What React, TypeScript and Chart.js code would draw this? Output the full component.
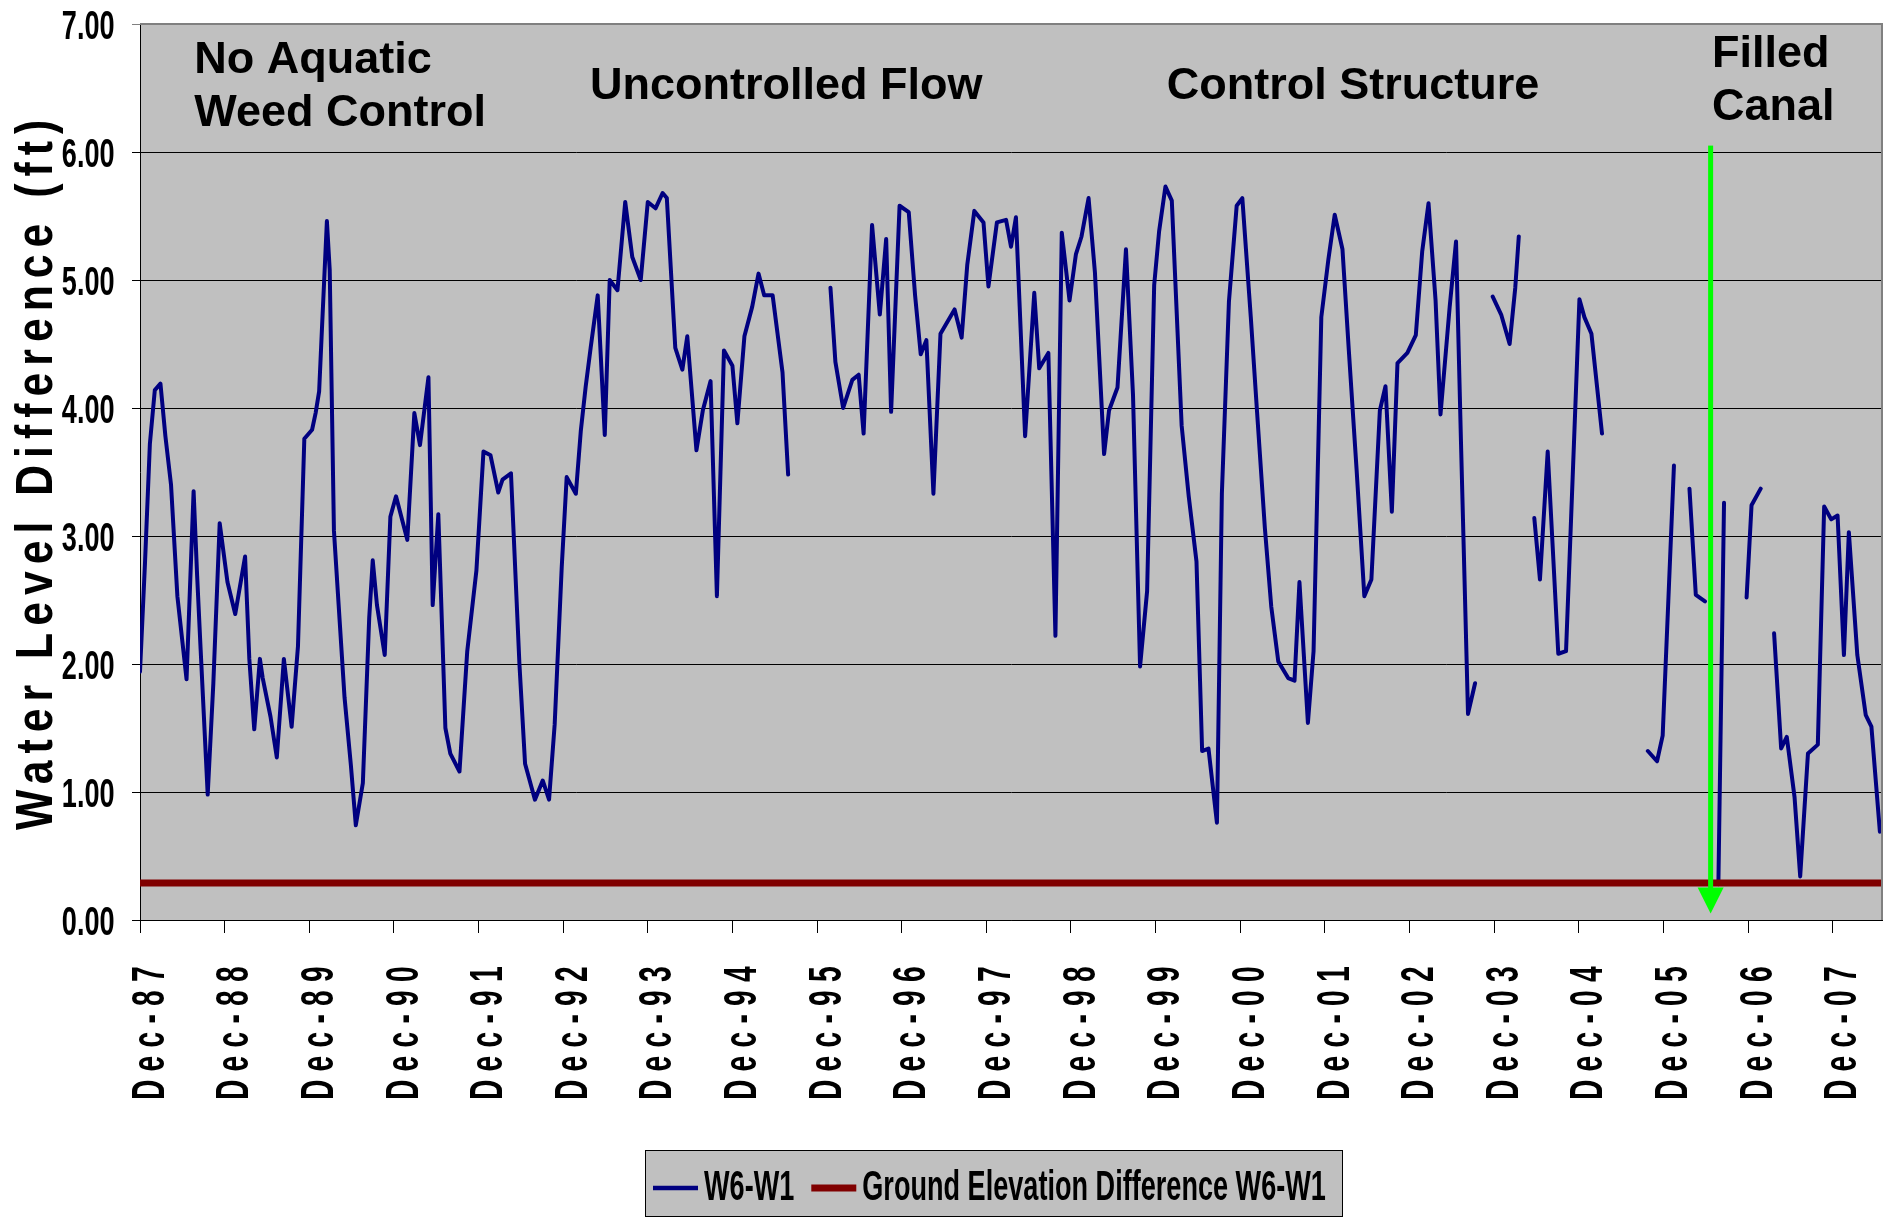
import React, { useEffect, useRef } from "react";
import { Chart, registerables } from "chart.js";

Chart.register(...registerables);

const CANVAS_W = 1891;
const CANVAS_H = 1218;

// x = months since Dec-1987, y = W6-W1 water level difference (ft); null = no record (gap)
const w6Months = [
  0, 0.7, 1.4, 2.1, 2.9, 3.6, 4.4, 5.3, 6.6, 7.6,
  8.1, 8.6, 9.6, 10.4, 11.3, 12.4, 13.5, 14.9, 15.5, 16.2,
  17.0, 17.4, 18.5, 19.4, 20.4, 21.5, 22.4, 23.3, 24.4, 24.9,
  25.4, 25.8, 26.5, 26.9, 27.5, 28.2, 29.0, 29.9, 30.6, 31.6,
  32.5, 33.0, 33.6, 34.7, 35.5, 36.3, 37.1, 37.9, 38.9, 39.7,
  40.9, 41.5, 42.3, 43.3, 44.0, 45.3, 46.4, 47.7, 48.7, 49.7,
  50.8, 51.4, 52.6, 53.8, 54.6, 56.0, 57.1, 58.0, 58.8, 59.8,
  60.5, 61.8, 62.5, 63.2, 63.9, 64.9, 65.9, 66.6, 67.7, 68.8,
  69.8, 71.0, 72.0, 73.1, 74.1, 74.7, 75.9, 76.9, 77.6, 78.9,
  79.8, 80.9, 81.8, 82.8, 84.0, 84.7, 85.7, 86.8, 87.7, 88.5,
  89.7, 91.1, 91.9,
  95.0,
  97.9, 98.6, 99.7, 101.0, 101.9, 102.6, 103.8, 104.9, 105.8, 106.5,
  107.7, 109.0, 109.9, 110.7, 111.5, 112.5, 113.5, 115.5, 116.5, 117.3,
  118.3, 119.6, 120.3, 121.5, 122.8, 123.5, 124.2, 125.5, 126.8, 127.5,
  128.8, 129.8, 130.7, 131.8, 132.7, 133.5, 134.5, 135.4, 136.7, 137.4,
  138.6, 139.8, 140.8, 141.8, 142.8, 143.8, 144.5, 145.4, 146.3, 147.7,
  148.7, 149.8, 150.6, 151.5, 152.7, 153.4, 154.4, 155.5, 156.3, 157.5,
  158.4, 159.5, 160.4, 161.4, 162.8, 163.7, 164.4, 165.6, 166.4, 167.5,
  168.5, 169.4, 170.5, 171.4, 172.5, 173.6, 174.6, 175.8, 176.6, 177.5,
  178.3, 179.7, 180.9, 181.8, 182.7, 183.7, 184.4, 185.7, 186.6, 187.3,
  188.3, 189.3,
  190.5,
  191.8, 193.0, 194.2, 195.0, 195.5,
  196.6,
  197.7, 198.5, 199.6, 201.1, 202.2, 204.1, 204.8, 205.8, 207.3,
  210.0,
  213.8, 215.1, 215.9, 216.7, 217.5,
  218.6,
  219.7, 220.6, 221.9,
  222.8,
  223.8, 224.6,
  226.0,
  227.8, 228.5, 229.8,
  230.8,
  231.7, 232.7, 233.5, 234.6, 235.4, 236.5, 237.9, 238.8, 239.8, 240.7,
  241.6, 242.3, 243.5, 244.7, 245.5, 246.7,
];

const w6Values = [
  1.94, 2.78, 3.72, 4.14, 4.19, 3.78, 3.40, 2.53, 1.88, 3.35,
  2.69, 2.11, 0.98, 1.85, 3.10, 2.64, 2.39, 2.84, 2.04, 1.49,
  2.04, 1.89, 1.59, 1.27, 2.04, 1.51, 2.14, 3.76, 3.83, 3.96,
  4.13, 4.62, 5.46, 5.08, 3.04, 2.43, 1.74, 1.21, 0.74, 1.07,
  2.36, 2.81, 2.46, 2.07, 3.15, 3.31, 3.14, 2.97, 3.96, 3.71,
  4.24, 2.46, 3.17, 1.50, 1.30, 1.16, 2.10, 2.73, 3.66, 3.63,
  3.34, 3.44, 3.49, 2.00, 1.22, 0.94, 1.09, 0.94, 1.53, 2.76,
  3.46, 3.33, 3.82, 4.17, 4.47, 4.88, 3.79, 5.00, 4.92, 5.61,
  5.18, 5.00, 5.61, 5.56, 5.68, 5.64, 4.47, 4.30, 4.56, 3.67,
  3.98, 4.21, 2.53, 4.45, 4.33, 3.88, 4.56, 4.79, 5.05, 4.88,
  4.88, 4.28, 3.48,
  null,
  4.94, 4.36, 4.00, 4.22, 4.26, 3.80, 5.43, 4.73, 5.32, 3.97,
  5.58, 5.53, 4.88, 4.42, 4.53, 3.33, 4.58, 4.77, 4.55, 5.12,
  5.54, 5.45, 4.95, 5.45, 5.47, 5.26, 5.49, 3.78, 4.90, 4.31,
  4.43, 2.22, 5.37, 4.84, 5.20, 5.34, 5.64, 5.06, 3.64, 3.98,
  4.16, 5.24, 4.10, 1.98, 2.57, 4.96, 5.38, 5.73, 5.62, 3.86,
  3.31, 2.80, 1.32, 1.34, 0.76, 3.33, 4.83, 5.58, 5.64, 4.71,
  3.96, 3.06, 2.45, 2.02, 1.89, 1.87, 2.64, 1.54, 2.10, 4.71,
  5.16, 5.51, 5.24, 4.45, 3.52, 2.53, 2.66, 3.98, 4.17, 3.19,
  4.35, 4.43, 4.57, 5.22, 5.60, 4.84, 3.95, 4.79, 5.30, 3.74,
  1.61, 1.85,
  null,
  4.87, 4.73, 4.50, 4.94, 5.34,
  null,
  3.14, 2.66, 3.66, 2.08, 2.10, 4.85, 4.71, 4.58, 3.80,
  null,
  1.32, 1.24, 1.44, 2.49, 3.55,
  null,
  3.37, 2.54, 2.49,
  null,
  0.28, 3.26,
  null,
  2.52, 3.24, 3.37,
  null,
  2.24, 1.34, 1.43, 0.96, 0.34, 1.30, 1.37, 3.23, 3.13, 3.16,
  2.07, 3.03, 2.07, 1.60, 1.51, 0.69,
];

// Ground elevation difference W6-W1 (ft), constant over the record
const groundMonths = [0, 247];
const groundValues = [0.29, 0.29];

// Axes
const xMinMonth = 0;
const xMaxMonth = 247;
const xTickStepMonths = 12;
const firstYear = 1987;
const tickMonthName = "Dec";
const yMinFt = 0;
const yMaxFt = 7;
const yTickStepFt = 1;
const yAxisTitle = "Water Level Difference (ft)";

// Legend
const seriesLabels = ["W6-W1", "Ground Elevation Difference W6-W1"];
const seriesColors = ["#000080", "#800000"];

// Period annotations (anchored in data units: month, ft)
const periodLabels = ["No Aquatic", "Weed Control", "Uncontrolled Flow", "Control Structure", "Filled", "Canal"];
const periodMonths = [7.7, 7.7, 63.8, 145.6, 222.9, 222.9];
const periodValues = [6.617, 6.203, 6.414, 6.414, 6.666, 6.25];

// Arrow marking canal filling
const arrowMonth = 222.7;
const arrowFromFt = 6.05;
const arrowToFt = 0.05;

const FONT = '"Liberation Sans", Arial, Helvetica, sans-serif';

function drawText(
  ctx: CanvasRenderingContext2D,
  text: string,
  x: number,
  y: number,
  size: number,
  sx: number,
  align: CanvasTextAlign,
  angle: number,
  spacing: number
) {
  ctx.save();
  ctx.translate(x, y);
  if (angle) ctx.rotate(angle);
  ctx.scale(sx, 1);
  ctx.font = `bold ${size}px ${FONT}`;
  ctx.fillStyle = "#000000";
  ctx.textAlign = align;
  ctx.textBaseline = "alphabetic";
  if (spacing && "letterSpacing" in ctx) (ctx as any).letterSpacing = `${spacing}px`;
  ctx.fillText(text, 0, 0);
  ctx.restore();
}

const decorPlugin = {
  id: "decor",
  beforeDraw(chart: any) {
    const { ctx, chartArea: a } = chart;
    ctx.save();
    ctx.fillStyle = "#FFFFFF";
    ctx.fillRect(0, 0, chart.width, chart.height);
    ctx.fillStyle = "#C0C0C0";
    ctx.fillRect(a.left, a.top, a.right - a.left, a.bottom - a.top);
    ctx.restore();
  },
  afterDatasetsDraw(chart: any) {
    const { ctx } = chart;
    const xs = chart.scales.x;
    const ys = chart.scales.y;
    const ax = xs.getPixelForValue(arrowMonth);
    const top = ys.getPixelForValue(arrowFromFt);
    const tip = ys.getPixelForValue(arrowToFt);
    const headLen = 26;
    const headHalf = 13;
    const shaft = 5;
    ctx.save();
    ctx.fillStyle = "#00FF00";
    ctx.fillRect(ax - shaft / 2, top, shaft, tip - headLen - top + 1);
    ctx.beginPath();
    ctx.moveTo(ax - headHalf, tip - headLen);
    ctx.lineTo(ax + headHalf, tip - headLen);
    ctx.lineTo(ax, tip);
    ctx.closePath();
    ctx.fill();
    ctx.restore();
  },
  afterDraw(chart: any) {
    const { ctx, chartArea: a } = chart;
    const xs = chart.scales.x;
    const ys = chart.scales.y;

    // plot frame (top / right)
    ctx.save();
    ctx.strokeStyle = "#808080";
    ctx.lineWidth = 2;
    ctx.beginPath();
    ctx.moveTo(a.left, a.top);
    ctx.lineTo(a.right, a.top);
    ctx.lineTo(a.right, a.bottom);
    ctx.stroke();
    ctx.restore();

    // y tick labels
    ys.ticks.forEach((t: any) => {
      const py = ys.getPixelForValue(t.value);
      drawText(ctx, Number(t.value).toFixed(2), a.left - 25.5, py + 14.7, 41, 0.66, "right", 0, 0);
    });

    // x tick labels (rotated)
    xs.ticks.forEach((t: any) => {
      const px = xs.getPixelForValue(t.value);
      const yr = (firstYear + Math.round(t.value / 12)) % 100;
      const label = `${tickMonthName}-${String(yr).padStart(2, "0")}`;
      drawText(ctx, label, px + 23.7, a.bottom + 180, 47, 0.6, "left", -Math.PI / 2, 13.7);
    });

    // y axis title
    drawText(ctx, yAxisTitle, 52, 830, 52, 0.82, "left", -Math.PI / 2, 8.6);

    // period annotations
    periodLabels.forEach((lab, i) => {
      drawText(ctx, lab, xs.getPixelForValue(periodMonths[i]), ys.getPixelForValue(periodValues[i]), 45, 1, "left", 0, 0);
    });

    // legend
    const boxL = 645;
    const boxT = 1150;
    const boxR = 1343;
    const boxB = 1217;
    ctx.save();
    ctx.fillStyle = "#C0C0C0";
    ctx.fillRect(boxL, boxT, boxR - boxL, boxB - boxT);
    ctx.strokeStyle = "#000000";
    ctx.lineWidth = 1;
    ctx.strokeRect(boxL + 0.5, boxT + 0.5, boxR - boxL - 1, boxB - boxT - 1);
    ctx.restore();
    let lx = 653;
    const ly = 1188;
    seriesLabels.forEach((lab, i) => {
      ctx.save();
      ctx.strokeStyle = seriesColors[i];
      ctx.lineWidth = i === 0 ? 4.5 : 7;
      ctx.lineCap = "butt";
      ctx.beginPath();
      ctx.moveTo(lx, ly);
      ctx.lineTo(lx + 45, ly);
      ctx.stroke();
      ctx.font = `bold 42px ${FONT}`;
      const w = ctx.measureText(lab).width * 0.645;
      ctx.restore();
      drawText(ctx, lab, lx + 51, 1200, 42, 0.645, "left", 0, 0);
      lx += 51 + w + 17;
    });
  },
};

export default function App() {
  const ref = useRef<HTMLCanvasElement>(null);

  useEffect(() => {
    const canvas = ref.current;
    if (!canvas) return;
    const w6Data = w6Months.map((m, i) => ({ x: m, y: w6Values[i] }));
    const groundData = groundMonths.map((m, i) => ({ x: m, y: groundValues[i] }));

    const chart = new Chart(canvas, {
      type: "line",
      data: {
        datasets: [
          {
            label: seriesLabels[0],
            data: w6Data as any,
            borderColor: seriesColors[0],
            backgroundColor: seriesColors[0],
            borderWidth: 4,
            pointRadius: 0,
            tension: 0,
            spanGaps: false,
            borderJoinStyle: "round",
            borderCapStyle: "round",
            order: 1,
          },
          {
            label: seriesLabels[1],
            data: groundData as any,
            borderColor: seriesColors[1],
            backgroundColor: seriesColors[1],
            borderWidth: 7,
            pointRadius: 0,
            tension: 0,
            borderCapStyle: "butt",
            order: 0,
          },
        ],
      },
      options: {
        responsive: false,
        animation: false,
        devicePixelRatio: 1,
        events: [],
        layout: { padding: { top: 24, right: 9, bottom: 0, left: 0 } },
        plugins: {
          legend: { display: false },
          tooltip: { enabled: false },
          title: { display: false },
        },
        scales: {
          x: {
            type: "linear",
            min: xMinMonth,
            max: xMaxMonth,
            afterFit: (s: any) => {
              s.height = 298;
            },
            ticks: {
              display: false,
              stepSize: xTickStepMonths,
              maxTicksLimit: 40,
              includeBounds: false,
            },
            grid: {
              drawOnChartArea: false,
              drawTicks: true,
              tickLength: 13,
              color: "#000000",
              lineWidth: 1,
            },
            border: { display: true, color: "#000000", width: 1 },
          },
          y: {
            type: "linear",
            min: yMinFt,
            max: yMaxFt,
            afterFit: (s: any) => {
              s.width = 140;
            },
            ticks: { display: false, stepSize: yTickStepFt },
            grid: {
              color: (c: any) => (c.tick && c.tick.value === yMaxFt ? "#808080" : "#000000"),
              lineWidth: 1,
              tickLength: 8,
              drawTicks: true,
            },
            border: { display: true, color: "#000000", width: 1 },
          },
        },
      } as any,
      plugins: [decorPlugin],
    });

    return () => chart.destroy();
  }, []);

  return (
    <div style={{ position: "absolute", left: 0, top: 0, width: CANVAS_W, height: CANVAS_H, background: "#FFFFFF" }}>
      <canvas ref={ref} width={CANVAS_W} height={CANVAS_H} style={{ display: "block", width: CANVAS_W, height: CANVAS_H }} />
    </div>
  );
}
